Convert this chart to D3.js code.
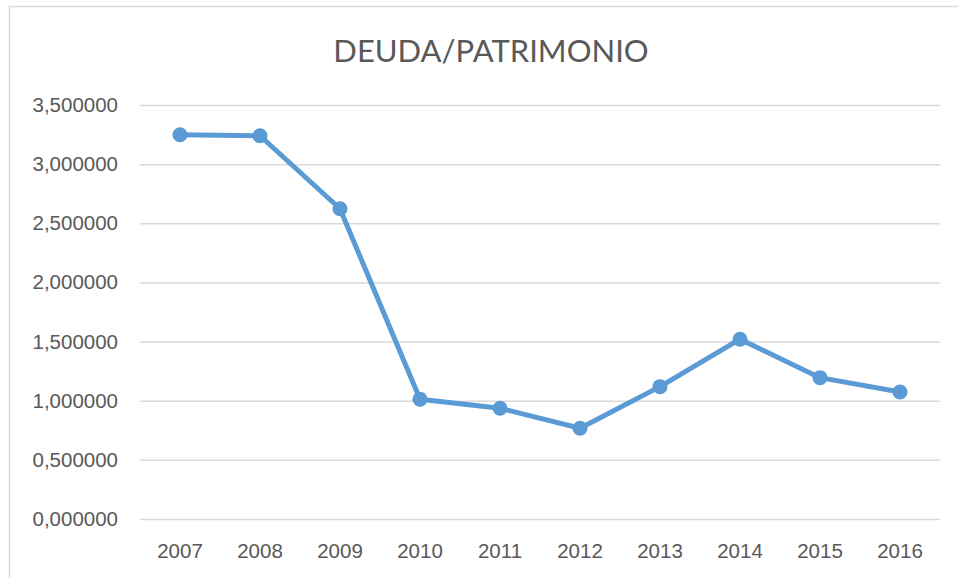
<!DOCTYPE html>
<html>
<head>
<meta charset="utf-8">
<script src="https://cdn.jsdelivr.net/npm/d3@7"></script>
<style>
    body { margin: 0; background: #fff; }
    svg { display: block; font-family: Lato, "Open Sans", sans-serif; }
</style>
</head>
<body>
<svg id="chart" width="958" height="578"></svg>
<script>
// data
const years = ["2007", "2008", "2009", "2010", "2011", "2012", "2013", "2014", "2015", "2016"];
const ratio = [3.249, 3.240, 2.623, 1.013, 0.936, 0.767, 1.119, 1.520, 1.195, 1.074];
const yTicks = [0, 0.5, 1, 1.5, 2, 2.5, 3, 3.5];

const svg = d3.select("#chart");
const width = +svg.attr("width");
const height = +svg.attr("height");

var margin = {top: 105, right: 18, bottom: 59, left: 140};

// frame around the chart area (right/bottom run off the image)
svg.append("rect")
    .attr("x", 9.5)
    .attr("y", 6.5)
    .attr("width", width + 10)
    .attr("height", height + 10)
    .attr("fill", "#fff")
    .attr("stroke", "#d9d9d9")
    .attr("stroke-width", 1.5);

const x = d3.scaleBand()
    .domain(years)
    .range([margin.left, width - margin.right]);

const y = d3.scaleLinear()
    .domain([0, 3.5])
    .range([height - margin.bottom, margin.top]);

const fmt = v => d3.format(".6f")(v).replace(".", ",");

// gridlines + y labels
svg.append("g")
    .attr("transform", `translate(${margin.left},0)`)
    .call(d3.axisLeft(y).tickValues(yTicks).tickSize(-(width - margin.left - margin.right)).tickFormat(fmt).tickPadding(22))
    .call(g => g.select(".domain").remove())
    .call(g => g.selectAll(".tick line").attr("stroke", "#d9d9d9").attr("stroke-width", 1.5))
    .call(g => g.selectAll(".tick text")
        .attr("fill", "#595959")
        .attr("font-size", "20.5px"));

// x labels
svg.append("g")
    .attr("transform", `translate(0,${height - margin.bottom})`)
    .call(d3.axisBottom(x).tickSize(0).tickPadding(24))
    .call(g => g.select(".domain").remove())
    .call(g => g.selectAll(".tick text")
        .attr("fill", "#595959")
        .attr("font-size", "20.5px"));

// title
svg.append("text")
    .attr("x", 491)
    .attr("y", 62)
    .attr("text-anchor", "middle")
    .attr("fill", "#595959")
    .attr("font-size", "31px")
    .text("DEUDA/PATRIMONIO");

const cx = d => x(d) + x.bandwidth() / 2;

const line = d3.line()
    .x((d, i) => cx(years[i]))
    .y(d => y(d));

svg.append("path")
    .datum(ratio)
    .attr("fill", "none")
    .attr("stroke", "#5b9bd5")
    .attr("stroke-width", 5)
    .attr("stroke-linejoin", "round")
    .attr("d", line);

svg.selectAll(".point")
    .data(ratio)
    .enter()
    .append("circle")
    .attr("class", "point")
    .attr("cx", (d, i) => cx(years[i]))
    .attr("cy", d => y(d))
    .attr("r", 7.5)
    .attr("fill", "#5b9bd5");
</script>
</body>
</html>
